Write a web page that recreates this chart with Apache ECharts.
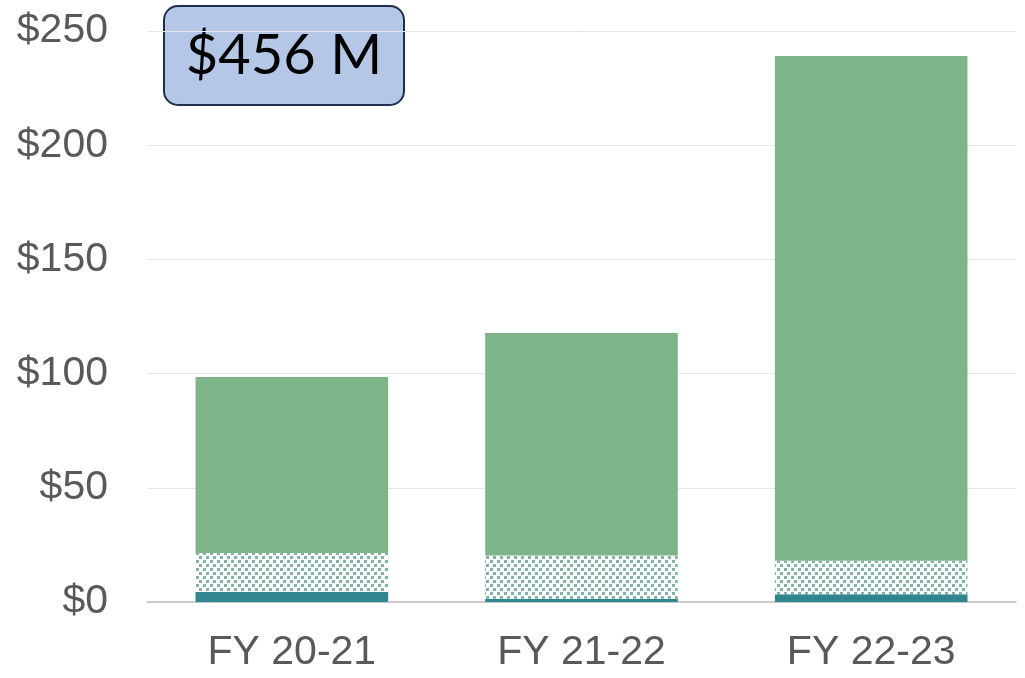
<!DOCTYPE html>
<html><head><meta charset="utf-8">
<script src="https://cdn.jsdelivr.net/npm/echarts@6/dist/echarts.min.js"></script>
<style>html,body{margin:0;padding:0;background:#fff}#c{width:1025px;height:678px}</style>
</head><body><div id="c"></div>
<script>
const categories = ['FY 20-21', 'FY 21-22', 'FY 22-23'];
const baseValues = [4.4, 1.4, 3.4];      // solid teal bottom segment
const patternValues = [17.1, 19.0, 14.7]; // dotted middle segment
const topValues = [77.0, 97.4, 220.9];    // green top segment
const yTicks = [0, 50, 100, 150, 200, 250];
const totalLabel = '$456 M';

// dotted pattern canvas
const pc = document.createElement('canvas');
pc.width = 14; pc.height = 8;
const pctx = pc.getContext('2d');
pctx.fillStyle = '#ffffff';
pctx.fillRect(0, 0, 14, 8);
pctx.fillStyle = '#80b4a7';
[[0,0],[7,0],[3,4],[10,4]].forEach(p => pctx.fillRect(p[0], p[1], 3, 3));

const chart = echarts.init(document.getElementById('c'), null, {renderer: 'canvas'});
const barW = '66.5%';
const font = 'Liberation Sans, Arial, sans-serif';
chart.setOption({
  animation: false,
  grid: {left: 147, right: 9, top: 31, bottom: 76, containLabel: false},
  xAxis: {
    type: 'category', data: categories,
    axisLine: {lineStyle: {color: '#bfbfbf', width: 1.5}},
    axisTick: {show: false},
    axisLabel: {color: '#595959', fontSize: 41, fontFamily: font, margin: 30}
  },
  yAxis: {
    type: 'value', min: yTicks[0], max: yTicks[yTicks.length - 1], interval: 50,
    axisLine: {show: false}, axisTick: {show: false},
    splitLine: {lineStyle: {color: '#e6e6e6', width: 1}},
    axisLabel: {color: '#595959', fontSize: 41, fontFamily: font, margin: 39,
      formatter: v => '$' + v}
  },
  series: [
    {name: 'Base', type: 'bar', stack: 't', barWidth: barW, data: baseValues,
     itemStyle: {color: '#31858f'}},
    {name: 'Pattern', type: 'bar', stack: 't', barWidth: barW, data: patternValues,
     itemStyle: {color: {image: pc, repeat: 'repeat'}}},
    {name: 'Main', type: 'bar', stack: 't', barWidth: barW, data: topValues,
     itemStyle: {color: '#7db488'}}
  ],
  graphic: [{
    type: 'group', left: 163, top: 5,
    children: [
      {type: 'rect', shape: {x: 0, y: 0, width: 240, height: 99, r: 14},
       style: {fill: '#b4c7e7', stroke: '#1f2f4f', lineWidth: 2}},
      {type: 'text', x: 120, y: 50,
       style: {text: totalLabel, fill: '#000', font: '56px Lato, "Open Sans", sans-serif',
         textAlign: 'center', textVerticalAlign: 'middle'}}
    ]
  }]
});
</script></body></html>
